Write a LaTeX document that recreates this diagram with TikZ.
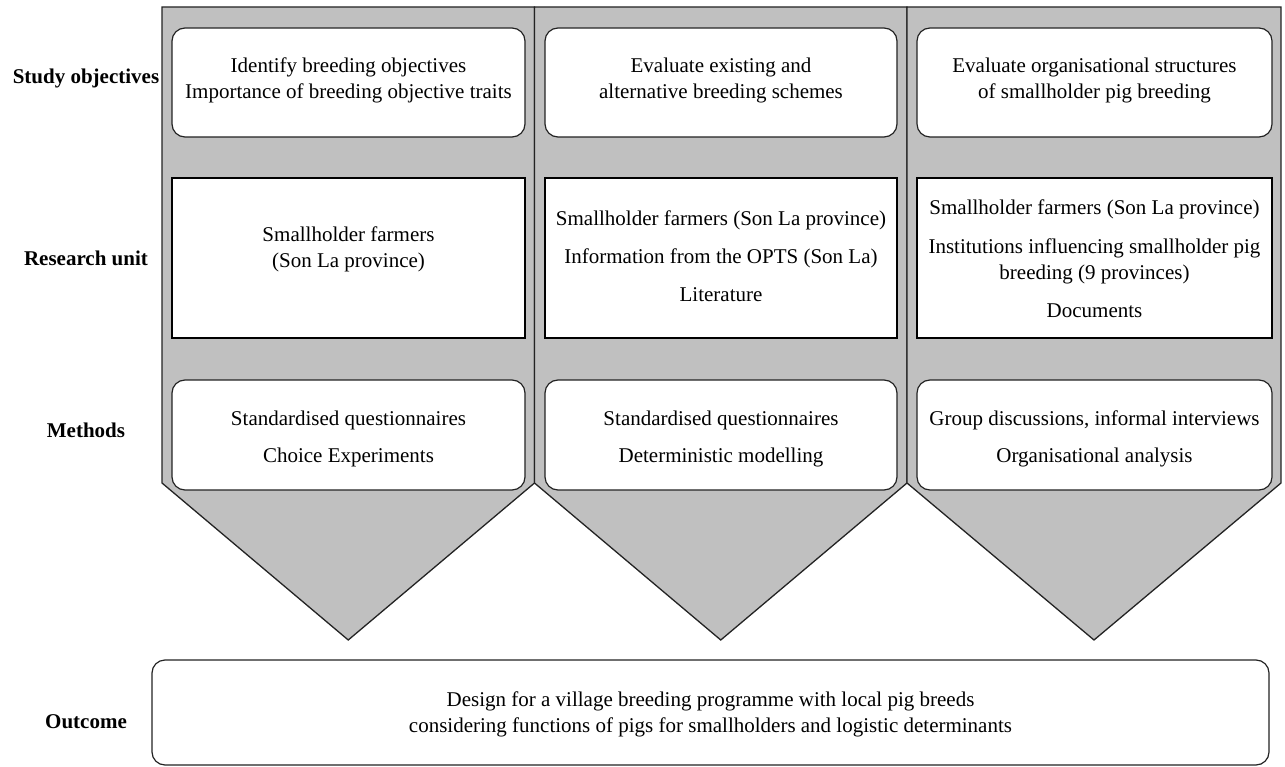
\documentclass[tikz,border=0pt]{standalone}
\usepackage{fontspec}
\setmainfont{Liberation Serif}
\definecolor{arrowgray}{RGB}{192,192,192}
\definecolor{edge}{RGB}{35,35,35}
\begin{document}
\begin{tikzpicture}[x=1pt,y=-1pt,
  colshape/.style={fill=arrowgray,draw=edge,line width=1.3pt,line join=miter},
  rbox/.style={draw=edge,fill=white,line width=1.2pt,rounded corners=13pt,inner sep=0pt,outer sep=0pt},
  sbox/.style={draw=black,fill=white,line width=1.3pt,inner sep=0pt,outer sep=0pt},
  txt/.style={align=center,inner sep=0pt,font=\fontsize{21}{26}\selectfont},
  lbl/.style={inner sep=0pt,font=\fontsize{21}{26}\selectfont\bfseries}]
\useasboundingbox (0,0) rectangle (1285,767);

% column arrows
\foreach \a/\b/\m in {162/534.5/348.25, 534.5/907/720.75, 907/1281/1094}
  \draw[colshape] (\a,7) -- (\b,7) -- (\b,483) -- (\m,640) -- (\a,483) -- cycle;

% row labels
\node[lbl] (lstudy) at (86,78) {Study objectives};
\node[lbl] (lres) at (86,258) {Research unit};
\node[lbl] (lmeth) at (86,430) {Methods};
\node[lbl] (lout) at (86,722) {Outcome};

% study objectives
\node[rbox,minimum width=353pt,minimum height=109pt] (so1) at (348.5,82.5) {};
\node[rbox,minimum width=352pt,minimum height=109pt] (so2) at (721,82.5) {};
\node[rbox,minimum width=355pt,minimum height=109pt] (so3) at (1094.5,82.5) {};
\node[txt] (so1t) at (348.5,80) {Identify breeding objectives\\Importance of breeding objective traits};
\node[txt] (so2t) at (721,80) {Evaluate existing and\\alternative breeding schemes};
\node[txt] (so3t) at (1094.5,80) {Evaluate organisational structures\\of smallholder pig breeding};

% research unit
\node[sbox,minimum width=353pt,minimum height=160pt] (ru1) at (348.5,258) {};
\node[sbox,minimum width=352pt,minimum height=160pt] (ru2) at (721,258) {};
\node[sbox,minimum width=355pt,minimum height=160pt] (ru3) at (1094.5,258) {};
\node[txt] (ru1t) at (348.5,249) {Smallholder farmers\\(Son La province)};
\node[txt] (ru2t) at (721,256.5) {Smallholder farmers (Son La province)\\[12pt]Information from the OPTS (Son La)\\[12pt]Literature};
\node[txt] (ru3t) at (1094.5,259) {Smallholder farmers (Son La province)\\[13pt]Institutions influencing smallholder pig\\breeding (9 provinces)\\[12pt]Documents};

% methods
\node[rbox,minimum width=353pt,minimum height=110pt] (me1) at (348.5,435) {};
\node[rbox,minimum width=352pt,minimum height=110pt] (me2) at (721,435) {};
\node[rbox,minimum width=355pt,minimum height=110pt] (me3) at (1094.5,435) {};
\node[txt] (me1t) at (348.5,438.5) {Standardised questionnaires\\[11pt]Choice Experiments};
\node[txt] (me2t) at (721,438.5) {Standardised questionnaires\\[11pt]Deterministic modelling};
\node[txt] (me3t) at (1094.5,438.5) {Group discussions, informal interviews\\[11pt]Organisational analysis};

% outcome
\node[rbox,minimum width=1117pt,minimum height=105pt] (oc) at (710.5,712.5) {};
\node[txt] (oct) at (710.5,714.5) {Design for a village breeding programme with local pig breeds\\considering functions of pigs for smallholders and logistic determinants};
\end{tikzpicture}
\end{document}
